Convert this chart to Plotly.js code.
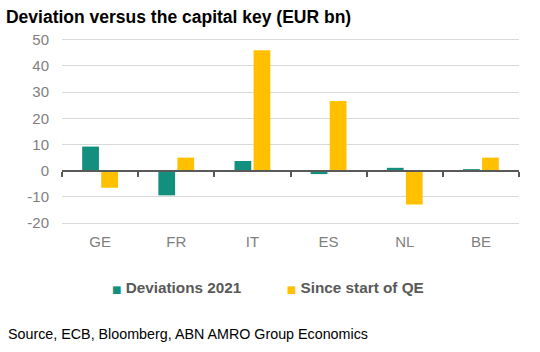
<!DOCTYPE html>
<html><head><meta charset="utf-8">
<script src="https://cdn.plot.ly/plotly-3.0.1.min.js"></script>
<style>html,body{margin:0;padding:0;background:#fff}#c{width:540px;height:352px}</style>
</head><body><div id="c"></div>
<script>
const categories = ["GE","FR","IT","ES","NL","BE"];
const deviations2021 = [9.2, -9.4, 3.7, -1.3, 1.1, 0.6];
const sinceStartQE = [-6.5, 5.0, 45.9, 26.6, -12.9, 5.0];
const seriesNames = ["Deviations 2021","Since start of QE"];
const colors = ["#138f7d","#ffc000"];
const yTicks = [-20,-10,0,10,20,30,40,50];

const yMin = -23, yMax = 51;
const zeroPos = (0 - yMin)/(yMax - yMin);

function legendName(i){
  return '<span style="color:' + colors[i] + ';font-size:10px;font-family:DejaVu Sans">■</span> ' + seriesNames[i];
}
const hidden = {color:"rgba(0,0,0,0)", size:0, opacity:0};

const traces = [
  {type:"bar", x:categories, y:deviations2021, name:seriesNames[0], marker:{color:colors[0]}, showlegend:false, hoverinfo:"skip"},
  {type:"bar", x:categories, y:sinceStartQE, name:seriesNames[1], marker:{color:colors[1]}, showlegend:false, hoverinfo:"skip"},
  {type:"scatter", mode:"markers", x:[null], y:[null], name:legendName(0), marker:hidden},
  {type:"scatter", mode:"markers", x:[null], y:[null], name:legendName(1), marker:hidden},
  {type:"scatter", mode:"markers", x:categories, y:categories.map(()=>null), xaxis:"x2", yaxis:"y", showlegend:false, hoverinfo:"skip", marker:{opacity:0}}
];

const layout = {
  width:540, height:352,
  margin:{l:62, r:21, t:37, b:121, autoexpand:false},
  paper_bgcolor:"#fff", plot_bgcolor:"#fff",
  font:{family:"Liberation Sans, Arial, sans-serif", color:"#808080"},
  title:{text:"<b>Deviation versus the capital key (EUR bn)</b>", font:{size:17.5, color:"#000"}, xref:"container", x:0.011, xanchor:"left", yref:"container", y:0.952, yanchor:"middle"},
  barmode:"group", bargap:0.5, bargroupgap:0.12,
  xaxis:{type:"category", categoryarray:categories, range:[-0.5,5.5], showgrid:false, zeroline:false, showline:false, ticks:"", tickfont:{size:15, color:"#808080"}, fixedrange:true},
  xaxis2:{type:"category", categoryarray:categories, range:[-0.5,5.5], overlaying:"x", anchor:"free", position:zeroPos, showline:true, linecolor:"#595959", linewidth:2, ticks:"outside", tickson:"boundaries", ticklen:5, tickwidth:2, tickcolor:"#595959", showticklabels:false, showgrid:false, zeroline:false},
  yaxis:{range:[yMin,yMax], tickvals:yTicks, ticktext:yTicks.map(String), showgrid:true, gridcolor:"#d9d9d9", gridwidth:1, zeroline:false, showline:false, ticks:"", ticklabelstandoff:12, tickfont:{size:15, color:"#808080"}},
  legend:{orientation:"h", x:10/457, xanchor:"left", y:-0.29, yanchor:"middle", font:{size:15.3, color:"#595959", weight:"bold"}, itemwidth:30, tracegroupgap:0},
  annotations:[{text:"Source, ECB, Bloomberg, ABN AMRO Group Economics", xref:"paper", yref:"paper", x:-56/457, y:-0.533, xanchor:"left", yanchor:"middle", showarrow:false, font:{size:14.3, color:"#000"}}],
  showlegend:true
};
Plotly.newPlot("c", traces, layout, {staticPlot:true, displayModeBar:false});
</script></body></html>
